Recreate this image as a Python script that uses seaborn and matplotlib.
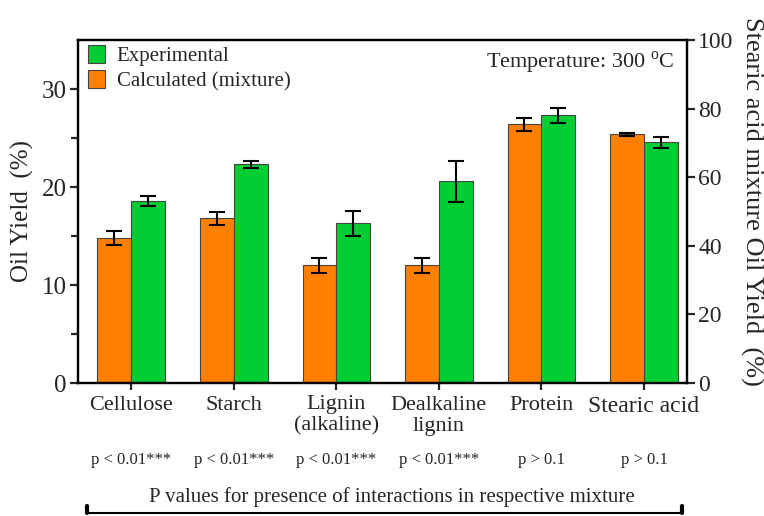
import matplotlib
matplotlib.use("Agg")
import matplotlib.pyplot as plt
import seaborn as sns
import pandas as pd
import numpy as np
from matplotlib.patches import Patch
from matplotlib.lines import Line2D

# ---- data ----
categories = ["Cellulose", "Starch", "Lignin\n(alkaline)", "Dealkaline\nlignin", "Protein", "Stearic acid"]
calculated = [14.8, 16.8, 12.0, 12.0, 26.4, 72.5]
calculated_err = [0.7, 0.7, 0.75, 0.75, 0.65, 0.4]
experimental = [18.6, 22.3, 16.3, 20.6, 27.3, 70.2]
experimental_err = [0.5, 0.4, 1.3, 2.1, 0.8, 1.6]
right_axis_categories = ["Stearic acid"]
p_values = ["p < 0.01***", "p < 0.01***", "p < 0.01***", "p < 0.01***", "p > 0.1", "p > 0.1"]
series = ["Calculated (mixture)", "Experimental"]
colors = {"Calculated (mixture)": "#FF7F00", "Experimental": "#00CC33"}

rows = []
for c, v1, e1, v2, e2 in zip(categories, calculated, calculated_err, experimental, experimental_err):
    rows.append({"cat": c, "series": series[0], "val": v1, "err": e1})
    rows.append({"cat": c, "series": series[1], "val": v2, "err": e2})
df = pd.DataFrame(rows)
df_left = df[~df["cat"].isin(right_axis_categories)]
df_right = df[df["cat"].isin(right_axis_categories)]

sns.set_style("ticks")
plt.rcParams["font.family"] = ["Liberation Serif", "DejaVu Serif"]
plt.rcParams["mathtext.fontset"] = "custom"
plt.rcParams["mathtext.rm"] = "Liberation Serif"

fig = plt.figure(figsize=(7.64, 5.16), dpi=100)
ax = fig.add_axes([78/764, 1-383/516, (687-78)/764, (383-40)/516])
ax2 = ax.twinx()

def draw(axis, data):
    sns.barplot(data=data, x="cat", y="val", hue="series", order=categories,
                hue_order=series, palette=colors, width=0.66, errorbar=None,
                saturation=1, edgecolor="#444444", linewidth=0.8, ax=axis, legend=False)
    bars = [p for p in axis.patches if p.get_height() > 0]
    for p in bars:
        cx = p.get_x() + p.get_width() / 2
        h = p.get_height()
        match = data[np.isclose(data["val"], h)]
        if len(match):
            axis.errorbar(cx, h, yerr=match["err"].iloc[0], fmt="none", ecolor="black",
                          elinewidth=1.5, capsize=6, capthick=1.5, zorder=5)

draw(ax, df_left)
draw(ax2, df_right)

ax.set_xlim(-0.52, 5.42)
ax2.set_xlim(-0.52, 5.42)
ax.set_ylim(0, 35)
ax2.set_ylim(0, 100)
ax.set_yticks([0, 10, 20, 30])
ax.set_yticks([5, 15, 25], minor=True)
ax2.set_yticks([0, 20, 40, 60, 80, 100])
ax.set_xlabel("")
ax.set_ylabel("Oil Yield  (%)", fontsize=18, labelpad=6)
ax2.set_ylabel("")

ax.set_xticks(range(len(categories)))
ax.set_xticklabels(categories, fontsize=16, linespacing=1.15)
for lbl in ax.get_xticklabels():
    if lbl.get_text() == "Stearic acid":
        lbl.set_fontsize(17)

for a in (ax, ax2):
    for s in a.spines.values():
        s.set_linewidth(1.6)
        s.set_color("black")
ax.tick_params(axis="y", which="major", length=6, width=1.6, labelsize=18, pad=2)
ax.tick_params(axis="y", which="minor", length=5, width=1.6)
ax.tick_params(axis="x", length=5, width=1.6, pad=4)
ax2.tick_params(axis="y", length=6, width=1.6, labelsize=17, pad=2)

# legend
handles = [Patch(facecolor=colors["Experimental"], edgecolor="#444444", linewidth=0.8),
           Patch(facecolor=colors["Calculated (mixture)"], edgecolor="#444444", linewidth=0.8)]
ax.legend(handles, ["Experimental", "Calculated (mixture)"], loc="upper left",
          bbox_to_anchor=(0.0, 1.015), frameon=False, fontsize=15,
          handlelength=0.8, handleheight=0.9, handletextpad=0.55, labelspacing=0.2,
          borderaxespad=0.1)

ax.text(0.979, 0.933, r"Temperature: 300 $^{\mathrm{o}}$C", transform=ax.transAxes,
        ha="right", va="center", fontsize=16)

fig.text(752/764, 1-201/516, "Stearic acid mixture Oil Yield  (%)", rotation=270,
         ha="center", va="center", fontsize=19)

for i, pv in enumerate(p_values):
    ax.text(i, (383-460)/343, pv, transform=ax.get_xaxis_transform(),
            ha="center", va="center", fontsize=12)

fig.text(392/764, 1-497/516, "P values for presence of interactions in respective mixture",
         ha="center", va="center", fontsize=15)
y_line = 1-513/516
fig.add_artist(Line2D([87/764, 682/764], [y_line, y_line], color="black", lw=1.5,
                      transform=fig.transFigure))
for xx in (87/764, 682/764):
    fig.add_artist(Line2D([xx, xx], [y_line, 1-506/516], color="black", lw=3,
                          transform=fig.transFigure))

fig.savefig("out.png", dpi=100)
